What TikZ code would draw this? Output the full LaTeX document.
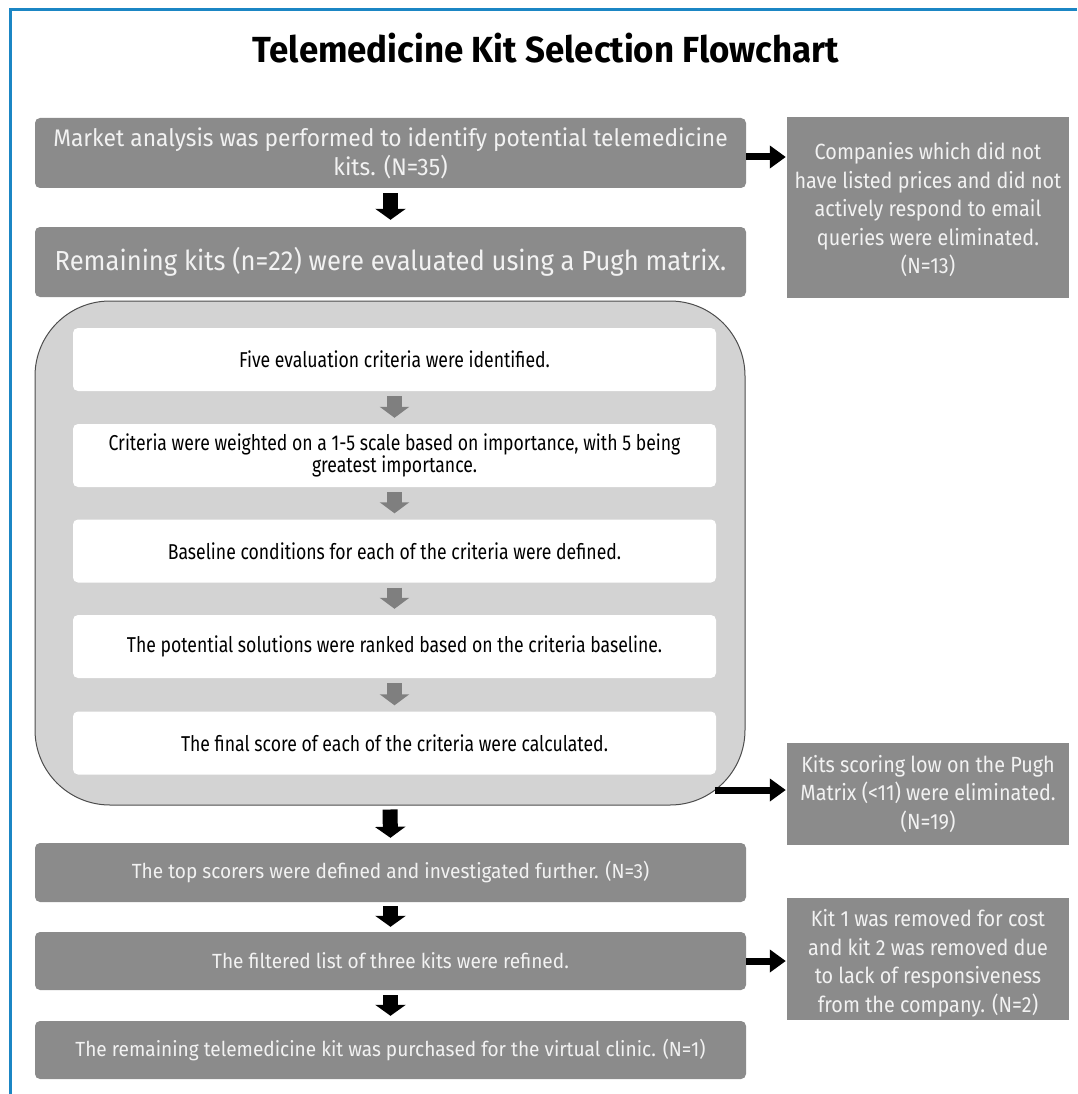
\documentclass[tikz,border=0pt]{standalone}
\usepackage{fontspec}
\setmainfont{Fira Sans}
\newfontfamily\titlefont[FakeStretch=0.96]{Fira Sans}
\newfontfamily\leadfont[FakeStretch=0.95]{Fira Sans}
\newfontfamily\evalfont[FakeStretch=0.93]{Fira Sans}
\newfontfamily\stepfont[FakeStretch=0.82]{Fira Sans}
\newfontfamily\lowfont[FakeStretch=0.93]{Fira Sans}
\newfontfamily\sidefont[FakeStretch=0.90]{Fira Sans}
\usetikzlibrary{arrows.meta}
\definecolor{frameblue}{HTML}{1B86C4}
\definecolor{boxgray}{HTML}{8B8B8B}
\definecolor{boxtext}{HTML}{F2F2F2}
\definecolor{panelgray}{HTML}{D3D3D3}
\definecolor{paneledge}{HTML}{4D4D4D}
\definecolor{stepgray}{HTML}{7F7F7F}
\tikzset{
  darkbox/.style={fill=boxgray, rounded corners=5pt, minimum width=711pt,
    text=boxtext, align=center, inner sep=0pt},
  lowbox/.style={darkbox, minimum height=58pt,
    font=\lowfont\fontsize{20.5}{25}\selectfont},
  sidebox/.style={fill=boxgray, minimum width=282pt, text=boxtext,
    align=center, inner sep=0pt, font=\sidefont\fontsize{22}{28.5}\selectfont},
  whitebox/.style={fill=white, rounded corners=5pt, minimum width=643pt,
    minimum height=63pt, align=center, inner sep=0pt,
    font=\stepfont\fontsize{21.5}{22}\selectfont},
  panel/.style={fill=panelgray, draw=paneledge, line width=1pt,
    rounded corners=75pt, minimum width=710pt, minimum height=504pt},
  bigarrow/.style={draw=black, line width=15pt,
    -{Triangle[width=30pt,length=11pt]}},
  steparrow/.style={draw=stepgray, line width=15pt,
    -{Triangle[width=29pt,length=11pt]}},
  sidearrow/.style={draw=black, line width=7pt,
    -{Triangle[width=22pt,length=16pt]}}
}
% taller first line pushes a side box's text block a little lower
\newcommand{\lowerby}[1]{\rule{0pt}{#1}}
\begin{document}
\begin{tikzpicture}[x=1pt,y=-1pt]
\useasboundingbox (0,0) rectangle (1077,1094);
% page frame
\draw[frameblue, line width=3pt] (1077,10) -- (10,10) -- (10,1094);

% title
\node (title) at (546,48) {\titlefont\bfseries\fontsize{36.3}{40}\selectfont Telemedicine Kit Selection Flowchart};

% main column
\node[darkbox, minimum height=70pt, font=\leadfont\fontsize{24}{29}\selectfont] (market) at (390.5,153)
  {Market analysis was performed to identify potential telemedicine\\kits. (N=35)};
\node[darkbox, minimum height=70pt, font=\evalfont\fontsize{27.5}{31}\selectfont] (pugh) at (390.5,262)
  {Remaining kits (n=22) were evaluated using a Pugh matrix.};

% Pugh matrix steps
\node[panel] (matrix) at (390,553) {};
\node[whitebox] (s1) at (394.5,359.5) {Five evaluation criteria were identified.};
\node[whitebox] (s2) at (394.5,455.5) {Criteria were weighted on a 1-5 scale based on importance, with 5 being\\greatest importance.};
\node[whitebox] (s3) at (394.5,551) {Baseline conditions for each of the criteria were defined.};
\node[whitebox] (s4) at (394.5,646.5) {The potential solutions were ranked based on the criteria baseline.};
\node[whitebox] (s5) at (394.5,743) {The final score of each of the criteria were calculated.};

\node[lowbox, minimum height=59pt] (top) at (390.5,872.5)
  {The top scorers were defined and investigated further. (N=3)};
\node[lowbox] (refine) at (390.5,961)
  {The filtered list of three kits were refined.};
\node[lowbox] (bought) at (390.5,1050)
  {The remaining telemedicine kit was purchased for the virtual clinic. (N=1)};

% eliminated kits
\node[sidebox, minimum height=181pt] (elim1) at (928,207.5)
  {\lowerby{22pt}Companies which did not\\have listed prices and did not\\actively respond to email\\queries were eliminated.\\(N=13)};
\node[sidebox, minimum height=102pt] (elim2) at (928,794)
  {Kits scoring low on the Pugh\\Matrix (<11) were eliminated.\\(N=19)};
\node[sidebox, minimum height=122pt] (elim3) at (928,959)
  {\lowerby{26pt}Kit 1 was removed for cost\\and kit 2 was removed due\\to lack of responsiveness\\from the company. (N=2)};

% downward flow
\draw[bigarrow, shorten <=5pt, shorten >=7pt] (market.south) -- (pugh.north);
\draw[steparrow, shorten <=5pt, shorten >=6pt] (s1) -- (s2);
\draw[steparrow, shorten <=5pt, shorten >=6pt] (s2) -- (s3);
\draw[steparrow, shorten <=5pt, shorten >=6pt] (s3) -- (s4);
\draw[steparrow, shorten <=5pt, shorten >=6pt] (s4) -- (s5);
\draw[bigarrow, shorten <=4pt, shorten >=5pt] (matrix.south) -- (top.north);
\draw[bigarrow, shorten <=4pt, shorten >=5pt] (top.south) -- (refine.north);
\draw[bigarrow, shorten <=5pt, shorten >=5pt] (refine.south) -- (bought.north);

% side exits
\coordinate (matrixexit) at (715,790);
\draw[sidearrow, shorten >=1pt] ([yshift=-4pt]market.east) -- ([yshift=-4pt]market.east -| elim1.west);
\draw[sidearrow, shorten >=1pt] (matrixexit) -- (matrixexit -| elim2.west);
\draw[sidearrow, shorten >=1pt] (refine.east) -- (refine.east -| elim3.west);
\end{tikzpicture}
\end{document}
